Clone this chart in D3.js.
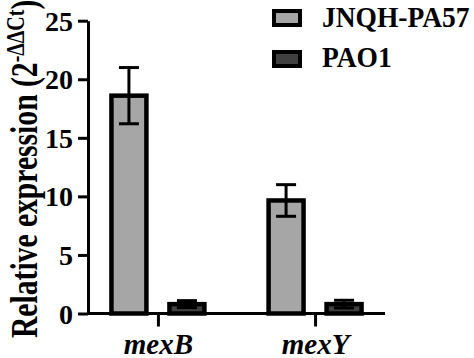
<!DOCTYPE html>
<html><head><meta charset="utf-8">
<script src="https://cdn.jsdelivr.net/npm/d3@7"></script>
</head><body style="margin:0">
<svg id="c" width="474" height="358"></svg>
<script>
const categories = ["mexB", "mexY"];
const series = ["JNQH-PA57", "PAO1"];
const jnqhMeans = [18.6, 9.65];
const jnqhErrors = [2.4, 1.35];
const pao1Means = [0.8, 0.8];
const pao1Errors = [0.3, 0.33];
const yTicks = [0, 5, 10, 15, 20, 25];
const seriesColors = ["#a6a6a6", "#404040"];

(function () {
const FONT = "'Liberation Serif'";
const svg = d3.select("#c");
const mLeft = 88, mRight = 385, mTop = 20.7, mBottom = 313.5;

const y = d3.scaleLinear().domain([0, 25]).range([mBottom, mTop]);
const x = d3.scalePoint().domain(categories).range([mLeft, mRight]).padding(0.445);
const xs = d3.scaleBand().domain(series).range([-58, 58]).paddingInner(0.397).paddingOuter(0.1985);
const color = d3.scaleOrdinal().domain(series).range(seriesColors);

const rows = [];
categories.forEach((c, i) => {
  rows.push({cat: c, s: series[0], v: jnqhMeans[i], e: jnqhErrors[i]});
  rows.push({cat: c, s: series[1], v: pao1Means[i], e: pao1Errors[i]});
});

// bars
svg.append("g").selectAll("rect").data(rows).join("rect")
  .attr("x", d => x(d.cat) + xs(d.s))
  .attr("width", xs.bandwidth())
  .attr("y", d => y(d.v))
  .attr("height", d => y(0) - y(d.v))
  .attr("fill", d => color(d.s))
  .attr("stroke", "#000")
  .attr("stroke-width", 4.5);

// error bars
const eg = svg.append("g").attr("stroke", "#000").attr("stroke-width", 3);
rows.forEach(d => {
  const cx = x(d.cat) + xs(d.s) + xs.bandwidth() / 2;
  eg.append("line").attr("x1", cx).attr("x2", cx).attr("y1", y(d.v - d.e)).attr("y2", y(d.v + d.e));
  eg.append("line").attr("x1", cx - 10).attr("x2", cx + 10).attr("y1", y(d.v + d.e)).attr("y2", y(d.v + d.e));
  eg.append("line").attr("x1", cx - 10).attr("x2", cx + 10).attr("y1", y(d.v - d.e)).attr("y2", y(d.v - d.e));
});

// y axis
const ya = svg.append("g").attr("transform", `translate(${mLeft},0)`)
  .call(d3.axisLeft(y).tickValues(yTicks).tickSize(10).tickSizeOuter(0).tickPadding(5));
ya.attr("font-family", null).attr("font-size", null);
ya.select(".domain").attr("stroke", "#000").attr("stroke-width", 3);
ya.selectAll(".tick line").attr("stroke", "#000").attr("stroke-width", 3);
ya.selectAll(".tick text")
  .attr("dy", "0.34em")
  .style("font-family", FONT).style("font-weight", "bold").style("font-size", "28px");

// x axis
const xa = svg.append("g").attr("transform", `translate(0,${mBottom})`)
  .call(d3.axisBottom(x).tickSize(13).tickSizeOuter(0).tickPadding(0));
xa.attr("font-family", null).attr("font-size", null);
xa.select(".domain").attr("d", `M${mLeft},0H${mRight}`).attr("stroke", "#000").attr("stroke-width", 3);
xa.selectAll(".tick line").attr("stroke", "#000").attr("stroke-width", 3);
xa.selectAll(".tick text")
  .attr("dy", null).attr("y", 40)
  .style("font-family", FONT).style("font-weight", "bold").style("font-size", "29px").style("font-style", "italic");

// y title
const yt = svg.append("text")
  .attr("transform", "translate(37,338) rotate(-90) scale(0.8,1)")
  .attr("text-anchor", "start")
  .style("font-family", FONT).style("font-weight", "bold")
  .style("font-size", "37px");
yt.append("tspan").text("Relative expression (2");
yt.append("tspan").attr("dy", -13).style("font-size", "25px").text("-ΔΔCt");
yt.append("tspan").attr("dy", 13).text(")");

// legend
const lg = svg.append("g");
series.forEach((s, i) => {
  const yy = 11 + i * 41;
  lg.append("rect").attr("x", 274).attr("y", yy).attr("width", 26).attr("height", 14)
    .attr("fill", color(s)).attr("stroke", "#000").attr("stroke-width", 4);
  lg.append("text").attr("transform", `translate(322,${27 + i * 40}) scale(1,1.1)`)
    .style("font-family", FONT).style("font-weight", "bold")
    .style("font-size", "27.5px").text(s);
});
})();
</script>
</body></html>
